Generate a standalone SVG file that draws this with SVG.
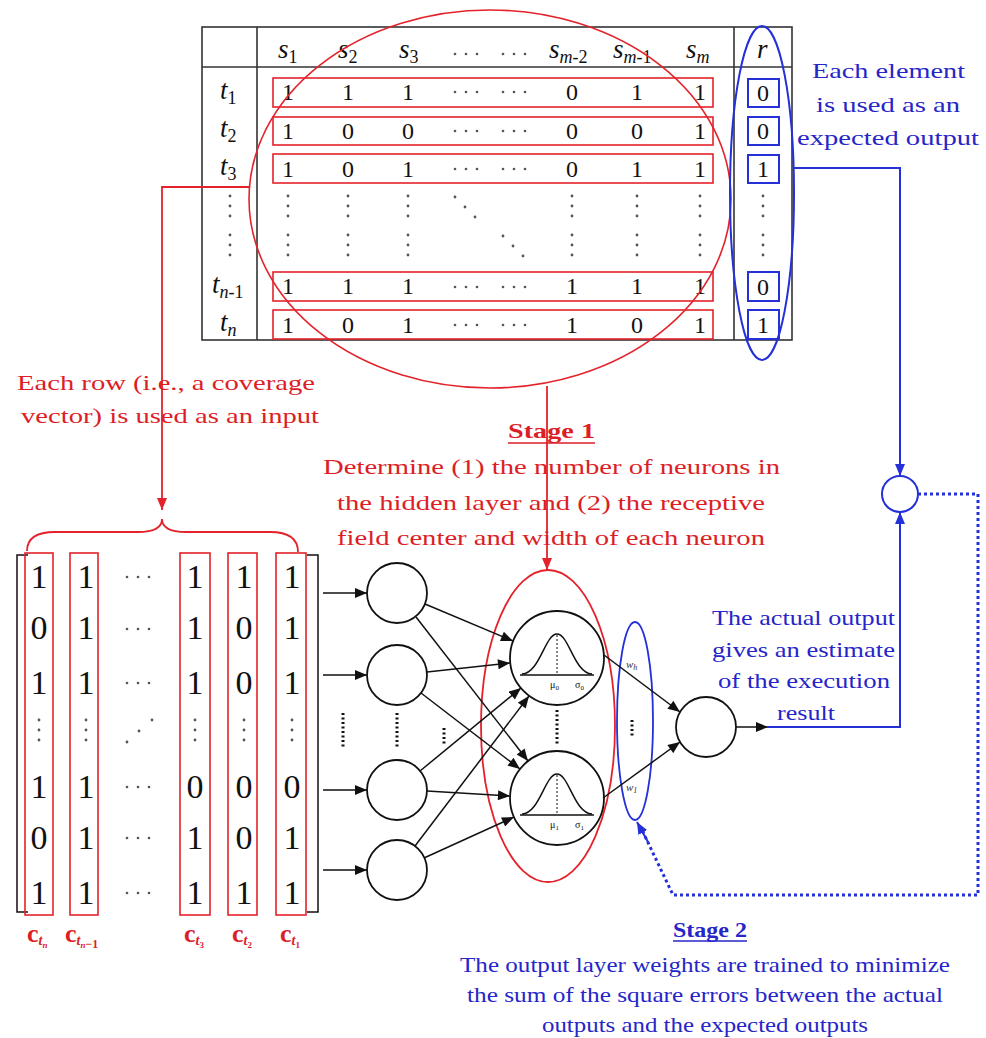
<svg xmlns="http://www.w3.org/2000/svg" width="986" height="1038" viewBox="0 0 986 1038">
<defs>
<style>
.tl{stroke:#333;stroke-width:1.6;fill:none}
.rb{stroke:#e4222b;stroke-width:1.6;fill:none}
.bb{stroke:#2430d8;stroke-width:2;fill:none}
.dg{font-family:"Liberation Serif","DejaVu Serif",serif;font-size:24px;fill:#111;text-anchor:middle}
.md{font-family:"Liberation Serif","DejaVu Serif",serif;font-size:34px;fill:#111;text-anchor:middle}
.lb{font-family:"Liberation Serif","DejaVu Serif",serif;font-size:27px;fill:#111;font-style:italic}
.sb{font-size:18px;font-style:normal}
.sbi{font-size:18px;font-style:italic}
.rt{font-family:"Liberation Serif","DejaVu Serif",serif;font-size:22px;fill:#dc1e26}
.bt{font-family:"Liberation Serif","DejaVu Serif",serif;font-size:22px;fill:#2626c8}
.cl{font-family:"Liberation Serif","DejaVu Serif",serif;font-size:26px;font-weight:bold;fill:#dc1e26}
.neuron{fill:#fff;stroke:#111;stroke-width:1.8}
.blk{stroke:#111;stroke-width:1.5;fill:none}
.dot{fill:#555}
.kd{stroke:#111;stroke-width:3;stroke-dasharray:2 2.5;fill:none}
.gl{font-family:"Liberation Serif","DejaVu Serif",serif;font-size:10px;fill:#111}
</style>
<marker id="ak" viewBox="0 0 12 10" markerWidth="13" markerHeight="10" refX="12" refY="5" orient="auto" markerUnits="userSpaceOnUse"><path d="M0,0 L12,5 L0,10 z" fill="#111"/></marker>
<marker id="ar" viewBox="0 0 12 10" markerWidth="12" markerHeight="10" refX="12" refY="5" orient="auto" markerUnits="userSpaceOnUse"><path d="M0,0 L12,5 L0,10 z" fill="#e4222b"/></marker>
<marker id="ab" viewBox="0 0 12 10" markerWidth="12" markerHeight="10" refX="12" refY="5" orient="auto" markerUnits="userSpaceOnUse"><path d="M0,0 L12,5 L0,10 z" fill="#2430d8"/></marker>
<g id="vd" class="dot"><circle cx="0" cy="0" r="1.4"/><circle cx="0" cy="10" r="1.4"/><circle cx="0" cy="20" r="1.4"/></g>
<g id="hd" class="dot"><circle cx="0" cy="0" r="1.3"/><circle cx="11" cy="0" r="1.3"/><circle cx="22" cy="0" r="1.3"/></g>
<g id="dd" class="dot"><circle cx="0" cy="0" r="1.4"/><circle cx="10" cy="10" r="1.4"/><circle cx="20" cy="20" r="1.4"/></g>
<g id="ud" class="dot"><circle cx="0" cy="0" r="1.4"/><circle cx="12" cy="-11" r="1.4"/><circle cx="25" cy="-22" r="1.4"/></g>
</defs>
<rect width="986" height="1038" fill="#fff"/>

<!-- Table -->
<g id="table">
<rect x="202" y="27" width="590" height="313" class="tl"/>
<line x1="202" y1="67" x2="792" y2="67" class="tl"/>
<line x1="257" y1="27" x2="257" y2="340" class="tl"/>
<line x1="734" y1="27" x2="734" y2="340" class="tl"/>
<!-- header -->
<text class="lb" x="278" y="58">s<tspan class="sb" dy="5">1</tspan></text>
<text class="lb" x="338" y="58">s<tspan class="sb" dy="5">2</tspan></text>
<text class="lb" x="399" y="58">s<tspan class="sb" dy="5">3</tspan></text>
<use href="#hd" x="455" y="54"/>
<use href="#hd" x="503" y="54"/>
<text class="lb" x="549" y="58">s<tspan class="sbi" dy="5">m</tspan><tspan class="sb">-2</tspan></text>
<text class="lb" x="613" y="58">s<tspan class="sbi" dy="5">m</tspan><tspan class="sb">-1</tspan></text>
<text class="lb" x="686" y="58">s<tspan class="sbi" dy="5">m</tspan></text>
<text class="lb" x="757" y="58">r</text>
<!-- row labels -->
<text class="lb" x="220" y="99">t<tspan class="sb" dy="5">1</tspan></text>
<text class="lb" x="220" y="137">t<tspan class="sb" dy="5">2</tspan></text>
<text class="lb" x="220" y="175">t<tspan class="sb" dy="5">3</tspan></text>
<text class="lb" x="212" y="293">t<tspan class="sbi" dy="5">n</tspan><tspan class="sb">-1</tspan></text>
<text class="lb" x="220" y="331">t<tspan class="sbi" dy="5">n</tspan></text>
<!-- row boxes -->
<rect x="273" y="78" width="440" height="29" class="rb"/>
<rect x="273" y="117" width="440" height="28" class="rb"/>
<rect x="273" y="154" width="440" height="29" class="rb"/>
<rect x="273" y="272" width="440" height="29" class="rb"/>
<rect x="273" y="310" width="440" height="29" class="rb"/>
<!-- r boxes -->
<rect x="748" y="79" width="31" height="28" class="bb"/>
<rect x="748" y="117" width="31" height="28" class="bb"/>
<rect x="748" y="155" width="31" height="28" class="bb"/>
<rect x="748" y="272" width="31" height="29" class="bb"/>
<rect x="748" y="310" width="31" height="29" class="bb"/>
<!-- row 1 -->
<g class="dg">
<text x="288" y="100">1</text><text x="348" y="100">1</text><text x="408" y="100">1</text><text x="572" y="100">0</text><text x="637" y="100">1</text><text x="700" y="100">1</text><text x="763" y="101">0</text>
<text x="288" y="139">1</text><text x="348" y="139">0</text><text x="408" y="139">0</text><text x="572" y="139">0</text><text x="637" y="139">0</text><text x="700" y="139">1</text><text x="763" y="139">0</text>
<text x="288" y="177">1</text><text x="348" y="177">0</text><text x="408" y="177">1</text><text x="572" y="177">0</text><text x="637" y="177">1</text><text x="700" y="177">1</text><text x="763" y="177">1</text>
<text x="288" y="294">1</text><text x="348" y="294">1</text><text x="408" y="294">1</text><text x="572" y="294">1</text><text x="637" y="294">1</text><text x="700" y="294">1</text><text x="763" y="295">0</text>
<text x="288" y="333">1</text><text x="348" y="333">0</text><text x="408" y="333">1</text><text x="572" y="333">1</text><text x="637" y="333">0</text><text x="700" y="333">1</text><text x="763" y="333">1</text>
</g>
<use href="#hd" x="455" y="92"/><use href="#hd" x="503" y="92"/>
<use href="#hd" x="455" y="131"/><use href="#hd" x="503" y="131"/>
<use href="#hd" x="455" y="169"/><use href="#hd" x="503" y="169"/>
<use href="#hd" x="455" y="287"/><use href="#hd" x="503" y="287"/>
<use href="#hd" x="455" y="325"/><use href="#hd" x="503" y="325"/>
<!-- vertical dots -->
<use href="#vd" x="230" y="196"/><use href="#vd" x="230" y="235"/>
<use href="#vd" x="288" y="196"/><use href="#vd" x="288" y="235"/>
<use href="#vd" x="348" y="196"/><use href="#vd" x="348" y="235"/>
<use href="#vd" x="408" y="196"/><use href="#vd" x="408" y="235"/>
<use href="#vd" x="572" y="196"/><use href="#vd" x="572" y="235"/>
<use href="#vd" x="637" y="196"/><use href="#vd" x="637" y="235"/>
<use href="#vd" x="700" y="196"/><use href="#vd" x="700" y="235"/>
<use href="#vd" x="763" y="196"/><use href="#vd" x="763" y="235"/>
<use href="#dd" x="455" y="197"/><use href="#dd" x="503" y="236"/>
<!-- ellipses -->
<ellipse cx="490" cy="199" rx="241" ry="189" fill="none" stroke="#e4222b" stroke-width="1.6"/>
<ellipse cx="762" cy="193" rx="32" ry="167" fill="none" stroke="#2430d8" stroke-width="2"/>
</g>

<!-- Input matrix -->
<g id="matrix">
<path d="M28,555 H17 V912 H28" class="blk" stroke-width="2"/>
<path d="M307,555 H318 V912 H307" class="blk" stroke-width="2"/>
<rect x="25" y="553" width="28" height="362" class="rb" stroke-width="2"/>
<rect x="70" y="553" width="28" height="362" class="rb" stroke-width="2"/>
<rect x="180" y="553" width="30" height="362" class="rb" stroke-width="2"/>
<rect x="228" y="553" width="29" height="362" class="rb" stroke-width="2"/>
<rect x="276" y="553" width="30" height="362" class="rb" stroke-width="2"/>
<g class="md">
<text x="39" y="588">1</text><text x="86" y="588">1</text><text x="195" y="588">1</text><text x="244" y="588">1</text><text x="292" y="588">1</text>
<text x="39" y="639">0</text><text x="86" y="639">1</text><text x="195" y="639">1</text><text x="244" y="639">0</text><text x="292" y="639">1</text>
<text x="39" y="694">1</text><text x="86" y="694">1</text><text x="195" y="694">1</text><text x="244" y="694">0</text><text x="292" y="694">1</text>
<text x="39" y="798">1</text><text x="86" y="798">1</text><text x="195" y="798">0</text><text x="244" y="798">0</text><text x="292" y="798">0</text>
<text x="39" y="849">0</text><text x="86" y="849">1</text><text x="195" y="849">1</text><text x="244" y="849">0</text><text x="292" y="849">1</text>
<text x="39" y="904">1</text><text x="86" y="904">1</text><text x="195" y="904">1</text><text x="244" y="904">1</text><text x="292" y="904">1</text>
</g>
<use href="#hd" x="127" y="577"/><use href="#hd" x="127" y="629"/><use href="#hd" x="127" y="683"/>
<use href="#hd" x="127" y="787"/><use href="#hd" x="127" y="838"/><use href="#hd" x="127" y="893"/>
<use href="#vd" x="39" y="720"/><use href="#vd" x="86" y="720"/><use href="#vd" x="195" y="720"/><use href="#vd" x="244" y="720"/><use href="#vd" x="292" y="720"/>
<use href="#ud" x="127" y="742"/>
<!-- column labels -->
<text class="cl" x="27" y="942">c<tspan font-size="14" font-style="italic" dy="3">t</tspan><tspan font-size="9" font-style="italic" dy="3">n</tspan></text>
<text class="cl" x="65" y="942">c<tspan font-size="14" font-style="italic" dy="3">t</tspan><tspan font-size="9" font-style="italic" dy="3">n</tspan><tspan font-size="12">−1</tspan></text>
<text class="cl" x="184" y="942">c<tspan font-size="14" font-style="italic" dy="3">t</tspan><tspan font-size="9" dy="3">3</tspan></text>
<text class="cl" x="232" y="942">c<tspan font-size="14" font-style="italic" dy="3">t</tspan><tspan font-size="9" dy="3">2</tspan></text>
<text class="cl" x="280" y="942">c<tspan font-size="14" font-style="italic" dy="3">t</tspan><tspan font-size="9" dy="3">1</tspan></text>
<!-- brace -->
<path d="M27,551 Q27,532 55,532 H138 Q162,532 162,519 Q162,532 186,532 H270 Q298,532 298,552" fill="none" stroke="#e4222b" stroke-width="1.8"/>
</g>

<!-- Input neurons -->
<g id="input-layer">
<circle cx="397" cy="593" r="30" class="neuron"/>
<circle cx="397" cy="675" r="30" class="neuron"/>
<circle cx="397" cy="790" r="30" class="neuron"/>
<circle cx="397" cy="870" r="30" class="neuron"/>
<line x1="343" y1="713" x2="343" y2="747" class="kd"/>
<line x1="397" y1="713" x2="397" y2="747" class="kd"/>
<line x1="444" y1="728" x2="444" y2="745" class="kd"/>
</g>

<!-- Hidden neurons -->
<g id="hidden-layer">
<ellipse cx="548" cy="726" rx="67" ry="156" fill="none" stroke="#e4222b" stroke-width="1.8"/>
<circle cx="557" cy="658" r="47" class="neuron" fill="none"/>
<path d="M520,675 H594" class="blk"/>
<path d="M522,674 C540,673 545,634 557,634 C569,634 574,673 592,674" class="blk"/>
<line x1="557" y1="635" x2="557" y2="675" stroke="#111" stroke-width="1" stroke-dasharray="2 2"/>
<text class="gl" x="550" y="688">μ<tspan font-size="7" dy="2">0</tspan></text>
<text class="gl" x="575" y="688">σ<tspan font-size="7" dy="2">0</tspan></text>
<circle cx="557" cy="798" r="47" class="neuron" fill="none"/>
<path d="M520,815 H594" class="blk"/>
<path d="M522,814 C540,813 545,774 557,774 C569,774 574,813 592,814" class="blk"/>
<line x1="557" y1="775" x2="557" y2="815" stroke="#111" stroke-width="1" stroke-dasharray="2 2"/>
<text class="gl" x="550" y="828">μ<tspan font-size="7" dy="2">1</tspan></text>
<text class="gl" x="575" y="828">σ<tspan font-size="7" dy="2">1</tspan></text>
<line x1="557" y1="710" x2="557" y2="744" class="kd"/>
</g>

<!-- Weights -->
<g id="weights">
<ellipse cx="635" cy="721" rx="18" ry="99" fill="none" stroke="#2430d8" stroke-width="1.8"/>
<text x="626" y="668" font-family="Liberation Serif, serif" font-size="11" font-style="italic" fill="#333">w<tspan font-size="8" dy="2">h</tspan></text>
<text x="626" y="791" font-family="Liberation Serif, serif" font-size="11" font-style="italic" fill="#333">w<tspan font-size="8" dy="2">1</tspan></text>
<line x1="632" y1="720" x2="632" y2="738" class="kd"/>
</g>

<!-- Output neuron -->
<g id="output-node">
<circle cx="706" cy="727" r="30" class="neuron"/>
</g>

<!-- Summing node -->
<g id="sum-node">
<circle cx="900" cy="494" r="18" fill="#fff" stroke="#2430d8" stroke-width="2"/>
</g>

<!-- Connectors -->
<g id="connectors">
<line x1="323" y1="593" x2="367" y2="593" class="blk" marker-end="url(#ak)"/>
<line x1="323" y1="675" x2="367" y2="675" class="blk" marker-end="url(#ak)"/>
<line x1="323" y1="790" x2="367" y2="790" class="blk" marker-end="url(#ak)"/>
<line x1="323" y1="870" x2="367" y2="870" class="blk" marker-end="url(#ak)"/>
<line x1="425" y1="604" x2="513" y2="641" class="blk" marker-end="url(#ak)"/>
<line x1="416" y1="617" x2="528" y2="761" class="blk" marker-end="url(#ak)"/>
<line x1="427" y1="672" x2="510" y2="663" class="blk" marker-end="url(#ak)"/>
<line x1="421" y1="693" x2="520" y2="769" class="blk" marker-end="url(#ak)"/>
<line x1="420" y1="771" x2="521" y2="688" class="blk" marker-end="url(#ak)"/>
<line x1="427" y1="791" x2="510" y2="796" class="blk" marker-end="url(#ak)"/>
<line x1="415" y1="846" x2="529" y2="696" class="blk" marker-end="url(#ak)"/>
<line x1="424" y1="858" x2="514" y2="817" class="blk" marker-end="url(#ak)"/>
<line x1="604" y1="655" x2="680" y2="712" class="blk" marker-end="url(#ak)"/>
<line x1="603" y1="798" x2="680" y2="742" class="blk" marker-end="url(#ak)"/>
<line x1="736" y1="727" x2="768" y2="727" class="blk" marker-end="url(#ak)"/>
<!-- red -->
<polyline points="250,187 162,187 162,510" fill="none" stroke="#e4222b" stroke-width="1.8" marker-end="url(#ar)"/>
<line x1="547" y1="386" x2="547" y2="570" stroke="#e4222b" stroke-width="1.8" marker-end="url(#ar)"/>
<!-- blue -->
<polyline points="794,168 900,168 900,476" fill="none" stroke="#2430d8" stroke-width="2" marker-end="url(#ab)"/>
<polyline points="768,727 900,727 900,512" fill="none" stroke="#2430d8" stroke-width="2" marker-end="url(#ab)"/>
<polyline points="918,494 978,494 978,895 673,895 643,832" fill="none" stroke="#2430d8" stroke-width="3" stroke-dasharray="3 3"/>
<line x1="648" y1="842" x2="637" y2="822" stroke="#2430d8" stroke-width="2" marker-end="url(#ab)"/>
</g>

<!-- Labels -->
<g id="labels">
<text class="rt" x="17" y="390" textLength="298" lengthAdjust="spacingAndGlyphs">Each row (i.e., a coverage</text>
<text class="rt" x="21" y="423" textLength="298" lengthAdjust="spacingAndGlyphs">vector) is used as an input</text>
<text class="rt" x="508" y="438" font-weight="bold" textLength="87" lengthAdjust="spacingAndGlyphs">Stage 1</text>
<line x1="508" y1="443" x2="595" y2="443" stroke="#dc1e26" stroke-width="1.5"/>
<text class="rt" x="323" y="474" textLength="457" lengthAdjust="spacingAndGlyphs">Determine (1) the number of neurons in</text>
<text class="rt" x="337" y="510" textLength="428" lengthAdjust="spacingAndGlyphs">the hidden layer and (2) the receptive</text>
<text class="rt" x="337" y="545" textLength="428" lengthAdjust="spacingAndGlyphs">field center and width of each neuron</text>
<text class="bt" x="812" y="78" textLength="153" lengthAdjust="spacingAndGlyphs">Each element</text>
<text class="bt" x="816" y="112" textLength="144" lengthAdjust="spacingAndGlyphs">is used as an</text>
<text class="bt" x="797" y="145" textLength="182" lengthAdjust="spacingAndGlyphs">expected output</text>
<text class="bt" x="712" y="625" textLength="183" lengthAdjust="spacingAndGlyphs">The actual output</text>
<text class="bt" x="712" y="657" textLength="183" lengthAdjust="spacingAndGlyphs">gives an estimate</text>
<text class="bt" x="718" y="688" textLength="172" lengthAdjust="spacingAndGlyphs">of the execution</text>
<text class="bt" x="777" y="720" textLength="58" lengthAdjust="spacingAndGlyphs">result</text>
<text class="bt" x="673" y="937" font-weight="bold" textLength="74" lengthAdjust="spacingAndGlyphs">Stage 2</text>
<line x1="673" y1="941" x2="747" y2="941" stroke="#2626c8" stroke-width="1.5"/>
<text class="bt" x="460" y="972" textLength="490" lengthAdjust="spacingAndGlyphs">The output layer weights are trained to minimize</text>
<text class="bt" x="467" y="1002" textLength="476" lengthAdjust="spacingAndGlyphs">the sum of the square errors between the actual</text>
<text class="bt" x="542" y="1032" textLength="326" lengthAdjust="spacingAndGlyphs">outputs and the expected outputs</text>
</g>
</svg>
